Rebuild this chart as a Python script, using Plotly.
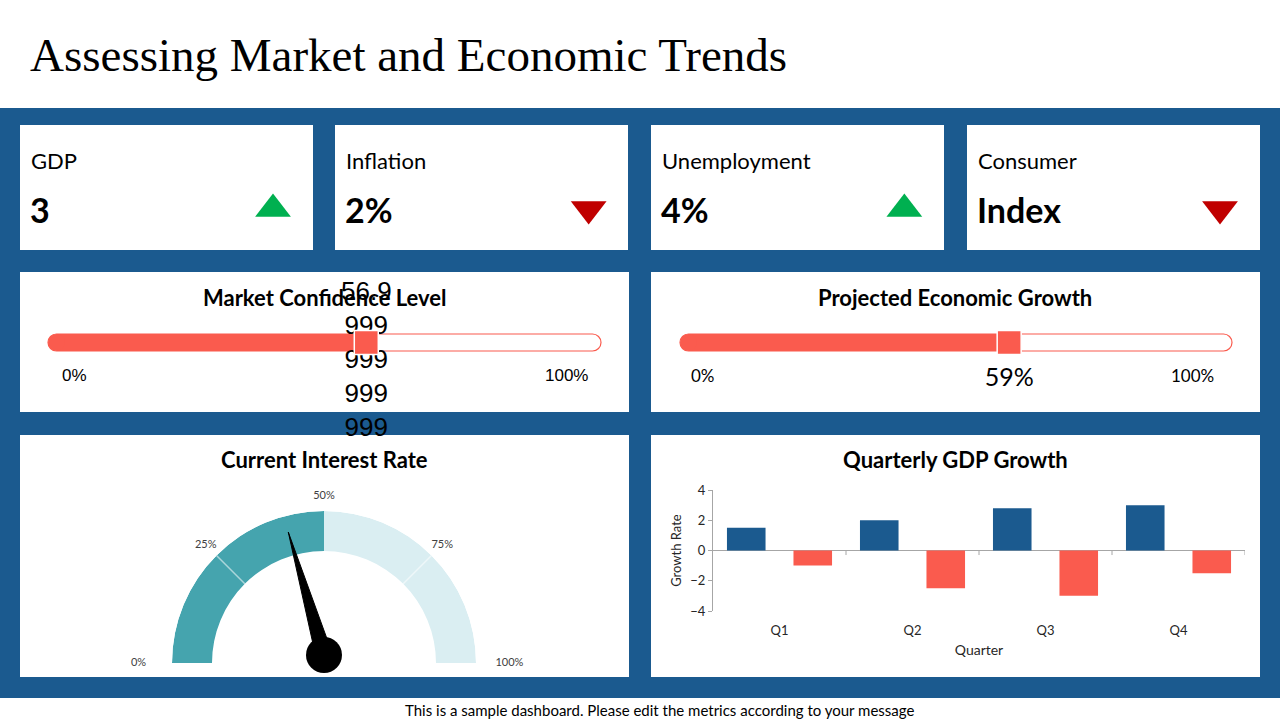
import plotly.graph_objects as go

W, H = 1280, 720


def px(x):
    return x / W


def py(y):
    return 1 - y / H


# ---------------- data ----------------
title_text = "Assessing Market and Economic Trends"
footer_text = "This is a sample dashboard. Please edit the metrics according to your message"

kpi_labels = ["GDP", "Inflation", "Unemployment", "Consumer"]
kpi_values = ["3", "2%", "4%", "Index"]
kpi_trend = ["up", "down", "up", "down"]

market_confidence = 56.9999999999999
projected_growth = 59

gauge_segments = [50, 50]
gauge_tick_values = [0, 25, 50, 75, 100]
interest_needle = 41

quarters = ["Q1", "Q2", "Q3", "Q4"]
gdp_growth = [1.5, 2.0, 2.8, 3.0]
gdp_decline = [-1.0, -2.5, -3.0, -1.5]
y_ticks = [-4, -2, 0, 2, 4]

# ---------------- styles ----------------
BLUE = "#1B5A8F"
RED = "#FA5B4E"
GREEN = "#00B050"
DARKRED = "#C00000"
TEAL = "#45A4AE"
LIGHT = "#DAEEF2"
SANS = "Lato"
SERIF = "Liberation Serif"

fig = go.Figure()
shapes = []
annotations = []

# background band
shapes.append(dict(type="rect", xref="paper", yref="paper", x0=0, x1=1,
                   y0=py(698), y1=py(108), fillcolor=BLUE, line_width=0, layer="below"))

# cards
card_lefts = [20, 335, 651, 967]
for cl in card_lefts:
    shapes.append(dict(type="rect", xref="paper", yref="paper", x0=px(cl), x1=px(cl + 293),
                       y0=py(250), y1=py(125), fillcolor="white", line_width=0, layer="below"))
for (x0, x1) in [(20, 629), (651, 1260)]:
    for (y0, y1) in [(272, 412), (435, 677)]:
        shapes.append(dict(type="rect", xref="paper", yref="paper", x0=px(x0), x1=px(x1),
                           y0=py(y1), y1=py(y0), fillcolor="white", line_width=0, layer="below"))


def rrect(x0, y0, x1, y1, r):
    k = 0.5523 * r

    def P(x, y):
        return f"{px(x):.6f},{py(y):.6f}"
    return (f"M{P(x0 + r, y0)} L{P(x1 - r, y0)} "
            f"C{P(x1 - r + k, y0)} {P(x1, y0 + r - k)} {P(x1, y0 + r)} "
            f"L{P(x1, y1 - r)} C{P(x1, y1 - r + k)} {P(x1 - r + k, y1)} {P(x1 - r, y1)} "
            f"L{P(x0 + r, y1)} C{P(x0 + r - k, y1)} {P(x0, y1 - r + k)} {P(x0, y1 - r)} "
            f"L{P(x0, y0 + r)} C{P(x0, y0 + r - k)} {P(x0 + r - k, y0)} {P(x0 + r, y0)} Z")


# slider tracks
for (a, b) in [(48, 601), (680, 1232)]:
    shapes.append(dict(type="path", xref="paper", yref="paper", path=rrect(a, 334, b, 351, 8.5),
                       fillcolor="white", line=dict(color=RED, width=1.2), layer="below"))

# title & footer
annotations.append(dict(text=title_text, x=px(28), y=py(55), xref="paper", yref="paper",
                        xanchor="left", yanchor="middle", showarrow=False,
                        font=dict(family=SERIF, size=47, color="black")))
annotations.append(dict(text=footer_text, x=px(659), y=py(710), xref="paper", yref="paper",
                        xanchor="center", yanchor="middle", showarrow=False,
                        font=dict(family=SANS, size=15, color="black")))

# KPI texts
for i, cl in enumerate(card_lefts):
    annotations.append(dict(text=kpi_labels[i], x=px(cl + 9), y=py(160), xref="paper", yref="paper",
                            xanchor="left", yanchor="middle", showarrow=False,
                            font=dict(family=SANS, size=22, color="black")))
    annotations.append(dict(text=f"<b>{kpi_values[i]}</b>", x=px(cl + 8), y=py(209), xref="paper",
                            yref="paper", xanchor="left", yanchor="middle", showarrow=False,
                            font=dict(family=SANS, size=34, color="black")))

# panel titles
for (t, x, y) in [("Market Confidence Level", 325, 297), ("Projected Economic Growth", 955, 297),
                  ("Current Interest Rate", 324, 460), ("Quarterly GDP Growth", 955, 460)]:
    annotations.append(dict(text=f"<b>{t}</b>", x=px(x), y=py(y), xref="paper", yref="paper",
                            xanchor="center", yanchor="middle", showarrow=False,
                            font=dict(family=SANS, size=22, color="black")))

# slider end labels
for (t, x, anc, fam, sz) in [("0%", 60, "left", "Liberation Sans", 17), ("100%", 590, "right", "Liberation Sans", 17),
                             ("0%", 689, "left", SANS, 17), ("100%", 1216, "right", SANS, 17)]:
    annotations.append(dict(text=t, x=px(x), y=py(375), xref="paper", yref="paper",
                            xanchor=anc, yanchor="middle", showarrow=False,
                            font=dict(family=fam, size=sz, color="black")))

# ---------------- KPI trend triangles ----------------
fig.add_trace(go.Scatter(
    x=list(range(len(kpi_trend))), y=[0] * len(kpi_trend), mode="markers",
    marker=dict(symbol=["triangle-up" if t == "up" else "triangle-down" for t in kpi_trend],
                color=[GREEN if t == "up" else DARKRED for t in kpi_trend], size=31, line_width=0),
    xaxis="x2", yaxis="y2", hoverinfo="skip", showlegend=False, cliponaxis=False))

# ---------------- sliders ----------------
def slider(value, xa, ya, label, label_y, label_font):
    fig.add_trace(go.Bar(x=[value], y=[0], orientation="h", width=1, base=0,
                         marker=dict(color=RED, line_width=0), xaxis=xa, yaxis=ya,
                         hoverinfo="skip", showlegend=False))
    fig.add_trace(go.Scatter(x=[0], y=[0], mode="markers",
                             marker=dict(symbol="circle", size=17, color=RED, line_width=0),
                             xaxis=xa, yaxis=ya, hoverinfo="skip", showlegend=False, cliponaxis=False))
    fig.add_trace(go.Scatter(x=[value], y=[label_y], mode="text", text=[label],
                             textposition="middle center", textfont=label_font,
                             xaxis=xa, yaxis=ya, hoverinfo="skip", showlegend=False, cliponaxis=False))
    fig.add_trace(go.Scatter(x=[value], y=[0], mode="markers",
                             marker=dict(symbol="square", size=24, color=RED,
                                         line=dict(color="white", width=1.5)),
                             xaxis=xa, yaxis=ya, hoverinfo="skip", showlegend=False, cliponaxis=False))


mc_str = str(market_confidence)
mc_chunks = [mc_str[:4]] + [mc_str[i:i + 3] for i in range(4, len(mc_str), 3)]
slider(market_confidence, "x3", "y3", "<br>".join(mc_chunks), -1.12,
       dict(family="Liberation Sans", size=26, color="black"))
slider(projected_growth, "x4", "y4", f"{projected_growth}%", -2.2,
       dict(family=SANS, size=25, color="black"))

# slider y axes: 1 unit = 17 px, centred on track (y=342.5px), spanning 280..440 px
TRK = 17.0
sl_top, sl_bot, sl_mid = 280, 440, 342.5
sl_range = [-(sl_bot - sl_mid) / TRK, (sl_mid - sl_top) / TRK]

# ---------------- gauge ----------------
HOLE = 112 / 152
cum = 0
thetas, widths = [], []
for s in gauge_segments:
    thetas.append(180 - 1.8 * (cum + s / 2))
    widths.append(1.8 * s)
    cum += s
fig.add_trace(go.Barpolar(r=[1 - HOLE] * len(gauge_segments), base=[HOLE] * len(gauge_segments),
                          theta=thetas, width=widths, marker=dict(color=[TEAL, LIGHT], line_width=0),
                          subplot="polar", hoverinfo="skip", showlegend=False))
for v in [25, 75]:
    fig.add_trace(go.Scatterpolar(r=[HOLE, 1], theta=[180 - 1.8 * v] * 2, mode="lines",
                                  line=dict(color="rgba(255,255,255,0.55)", width=1.5),
                                  subplot="polar", hoverinfo="skip", showlegend=False))

LBL_SCALE = 1.25  # label polar radius relative to gauge radius
fig.add_trace(go.Scatterpolar(
    r=[(1.22 if v in (0, 100) else 1.1) / LBL_SCALE for v in gauge_tick_values],
    theta=[180 - 1.8 * v for v in gauge_tick_values],
    mode="text", text=[f"{v}%" for v in gauge_tick_values], textposition="middle center",
    textfont=dict(family=SANS, size=11, color="#404040"),
    subplot="polar3", hoverinfo="skip", showlegend=False, cliponaxis=False))

nt = 180 - 1.8 * interest_needle
fig.add_trace(go.Scatterpolar(r=[128 / 152, 0.055, 0.055, 128 / 152], theta=[nt, nt + 90, nt - 90, nt],
                              mode="lines", fill="toself", fillcolor="black",
                              line=dict(color="black", width=1),
                              subplot="polar2", hoverinfo="skip", showlegend=False, cliponaxis=False))
fig.add_trace(go.Scatterpolar(r=[0], theta=[nt], mode="markers",
                              marker=dict(size=36, color="black", line_width=0),
                              subplot="polar2", hoverinfo="skip", showlegend=False, cliponaxis=False))

# ---------------- quarterly bar chart ----------------
fig.add_trace(go.Bar(x=quarters, y=gdp_growth, marker=dict(color=BLUE, line_width=0),
                     xaxis="x", yaxis="y", hoverinfo="skip", showlegend=False))
fig.add_trace(go.Bar(x=quarters, y=gdp_decline, marker=dict(color=RED, line_width=0),
                     xaxis="x", yaxis="y", hoverinfo="skip", showlegend=False))
for i in range(len(quarters)):
    shapes.append(dict(type="line", xref="x", yref="y", x0=i + 0.5, x1=i + 0.5, y0=0, y1=-0.3,
                       line=dict(color="#A6A6A6", width=1)))

polar_common = dict(
    sector=[0, 180], hole=0, bgcolor="rgba(0,0,0,0)",
    radialaxis=dict(visible=False, range=[0, 1]),
    angularaxis=dict(visible=False, rotation=0, direction="counterclockwise"),
)
cx, R = 324, 152
gcy, ncy = 663, 655
R3 = R * LBL_SCALE

hidden = dict(visible=False, fixedrange=True)

fig.update_layout(
    width=W, height=H, margin=dict(l=0, r=0, t=0, b=0, autoexpand=False),
    paper_bgcolor="white", plot_bgcolor="rgba(0,0,0,0)",
    font=dict(family=SANS, color="black"),
    barmode="group", bargap=0, bargroupgap=0.42,
    shapes=shapes, annotations=annotations,
    xaxis=dict(domain=[px(713), px(1245)], range=[-0.5, 3.5], type="category",
               showline=False, showgrid=False, ticks="", zeroline=False,
               ticklabelstandoff=10,
               tickfont=dict(size=13, color="#262626"),
               title=dict(text="Quarter", font=dict(size=14, color="#262626"), standoff=8),
               fixedrange=True),
    yaxis=dict(domain=[py(611), py(490)], range=[-4, 4], tickvals=y_ticks,
               showline=True, linecolor="#A6A6A6", linewidth=1, ticks="outside", ticklen=4,
               tickcolor="#A6A6A6", showgrid=False, zeroline=True, zerolinecolor="#A6A6A6",
               zerolinewidth=1, tickfont=dict(size=13, color="#262626"),
               title=dict(text="Growth Rate", font=dict(size=13, color="#262626"), standoff=5),
               fixedrange=True),
    xaxis2=dict(domain=[0, 1], range=[(0 - 273) / 315.67, (1280 - 273) / 315.67], **hidden),
    yaxis2=dict(domain=[py(250), py(125)], range=[-(250 - 209), 209 - 125], **hidden),
    xaxis3=dict(domain=[px(56.5), px(600)], range=[0, 100], **hidden),
    yaxis3=dict(domain=[py(sl_bot), py(sl_top)], range=sl_range, **hidden),
    xaxis4=dict(domain=[px(688.5), px(1232)], range=[0, 100], **hidden),
    yaxis4=dict(domain=[py(sl_bot), py(sl_top)], range=sl_range, **hidden),
    polar=dict(domain=dict(x=[px(cx - R), px(cx + R)], y=[py(gcy), py(gcy - R)]), **polar_common),
    polar2=dict(domain=dict(x=[px(cx - R), px(cx + R)], y=[py(ncy), py(ncy - R)]), **polar_common),
    polar3=dict(domain=dict(x=[px(cx - R3), px(cx + R3)], y=[py(gcy), py(gcy - R3)]), **polar_common),
)

fig.write_html("out.html")
